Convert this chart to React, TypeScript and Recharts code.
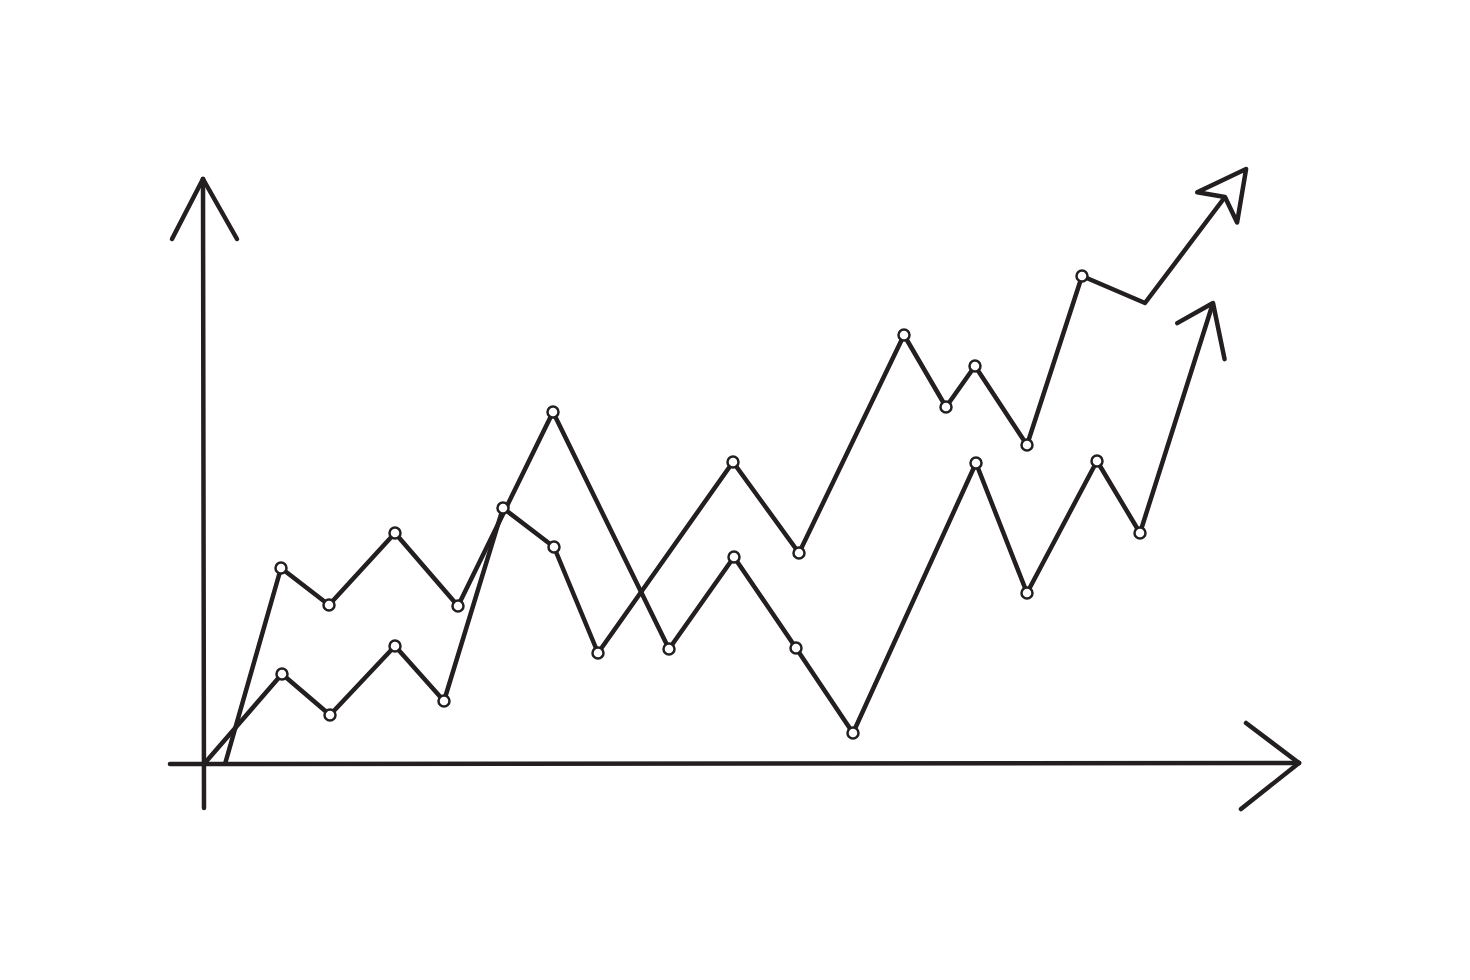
import { LineChart, Line, XAxis, YAxis, ReferenceLine } from "recharts";

// units: 1 = 10px, origin at the axes crossing
const upperStartX = [2.1, 7.7, 12.5, 19.1, 25.4, 34.9, 46.5, 53.0, 59.2, 64.9, 77.2, 82.3, 89.3, 93.6, 100.9];
const upperStartY = [0, 19.6, 15.9, 23.1, 15.8, 35.2, 11.5, 20.7, 11.6, 3.1, 30.1, 17.1, 30.3, 23.1, 46.1];
const upperStartDots = [false, true, true, true, true, true, true, true, true, true, true, true, true, true, false];

const originX = [0, 7.8, 12.6, 19.1, 24.0, 29.9, 35.0, 39.4, 52.9, 59.5, 70.0, 74.2, 77.1, 82.3, 87.8, 94.1, 102.1];
const originY = [0, 9.0, 4.9, 11.8, 6.3, 25.6, 21.7, 11.1, 30.2, 21.1, 42.9, 35.7, 39.8, 31.9, 48.8, 46.1, 56.7];
const originDots = [false, true, true, true, true, true, true, true, true, true, true, true, true, true, true, false, false];

const W = 1470;
const H = 980;
const X_DOMAIN: [number, number] = [-20.4, 126.6];
const Y_DOMAIN: [number, number] = [-21.6, 76.4];
const KX = W / (X_DOMAIN[1] - X_DOMAIN[0]);
const KY = H / (Y_DOMAIN[1] - Y_DOMAIN[0]);
const INK = "#231f20";
const LINE_W = 4.5;

const seriesA = upperStartX.map((x, i) => ({ x, y: upperStartY[i] }));
const seriesB = originX.map((x, i) => ({ x, y: originY[i] }));

function makeDot(data: { x: number; y: number }[], marks: boolean[], head: "open" | "dart") {
  return (props: any) => {
    const { cx, cy, index } = props;
    const key = `dot-${head}-${index}`;
    if (index === data.length - 1) {
      const prev = data[index - 1];
      const cur = data[index];
      const dx = (cur.x - prev.x) * KX;
      const dy = -(cur.y - prev.y) * KY;
      const len = Math.hypot(dx, dy);
      const ux = dx / len;
      const uy = dy / len;
      const nx = -uy;
      const ny = ux;
      const pt = (a: number, b: number) => `${cx + a * ux + b * nx},${cy + a * uy + b * ny}`;
      if (head === "dart") {
        return (
          <polygon
            key={key}
            points={[pt(35, 0), pt(-13, 25), pt(0, 0), pt(-13, -25)].join(" ")}
            fill="#fff"
            stroke={INK}
            strokeWidth={LINE_W}
            strokeLinejoin="round"
          />
        );
      }
      return (
        <polyline
          key={key}
          points={[pt(-30, -28), pt(0, 0), pt(-50, 28)].join(" ")}
          fill="none"
          stroke={INK}
          strokeWidth={LINE_W}
          strokeLinecap="round"
          strokeLinejoin="round"
        />
      );
    }
    if (!marks[index]) return <g key={key} />;
    return <circle key={key} cx={cx} cy={cy} r={5.5} fill="#fff" stroke={INK} strokeWidth={2.5} />;
  };
}

const axisStyle = { stroke: INK, strokeWidth: LINE_W, strokeLinecap: "round" as const };

export default function App() {
  return (
    <div style={{ position: "absolute", left: 0, top: 0, width: W, height: H, background: "#fff" }}>
      <LineChart width={W} height={H} margin={{ top: 0, right: 0, bottom: 0, left: 0 }}>
        <XAxis type="number" dataKey="x" domain={X_DOMAIN} hide allowDataOverflow />
        <YAxis type="number" dataKey="y" domain={Y_DOMAIN} hide allowDataOverflow />
        {/* axes with arrow heads */}
        <ReferenceLine segment={[{ x: -3.4, y: 0 }, { x: 109.5, y: 0.1 }]} {...axisStyle} />
        <ReferenceLine segment={[{ x: 104.2, y: 4.1 }, { x: 109.5, y: 0.1 }]} {...axisStyle} />
        <ReferenceLine segment={[{ x: 103.7, y: -4.5 }, { x: 109.5, y: 0.1 }]} {...axisStyle} />
        <ReferenceLine segment={[{ x: 0, y: -4.4 }, { x: -0.1, y: 58.5 }]} {...axisStyle} />
        <ReferenceLine segment={[{ x: -3.2, y: 52.5 }, { x: -0.1, y: 58.5 }]} {...axisStyle} />
        <ReferenceLine segment={[{ x: 3.3, y: 52.5 }, { x: -0.1, y: 58.5 }]} {...axisStyle} />
        <Line
          data={seriesA}
          dataKey="y"
          type="linear"
          stroke={INK}
          strokeWidth={LINE_W}
          strokeLinejoin="round"
          dot={makeDot(seriesA, upperStartDots, "open")}
          activeDot={false}
          isAnimationActive={false}
        />
        <Line
          data={seriesB}
          dataKey="y"
          type="linear"
          stroke={INK}
          strokeWidth={LINE_W}
          strokeLinejoin="round"
          dot={makeDot(seriesB, originDots, "dart")}
          activeDot={false}
          isAnimationActive={false}
        />
      </LineChart>
    </div>
  );
}
